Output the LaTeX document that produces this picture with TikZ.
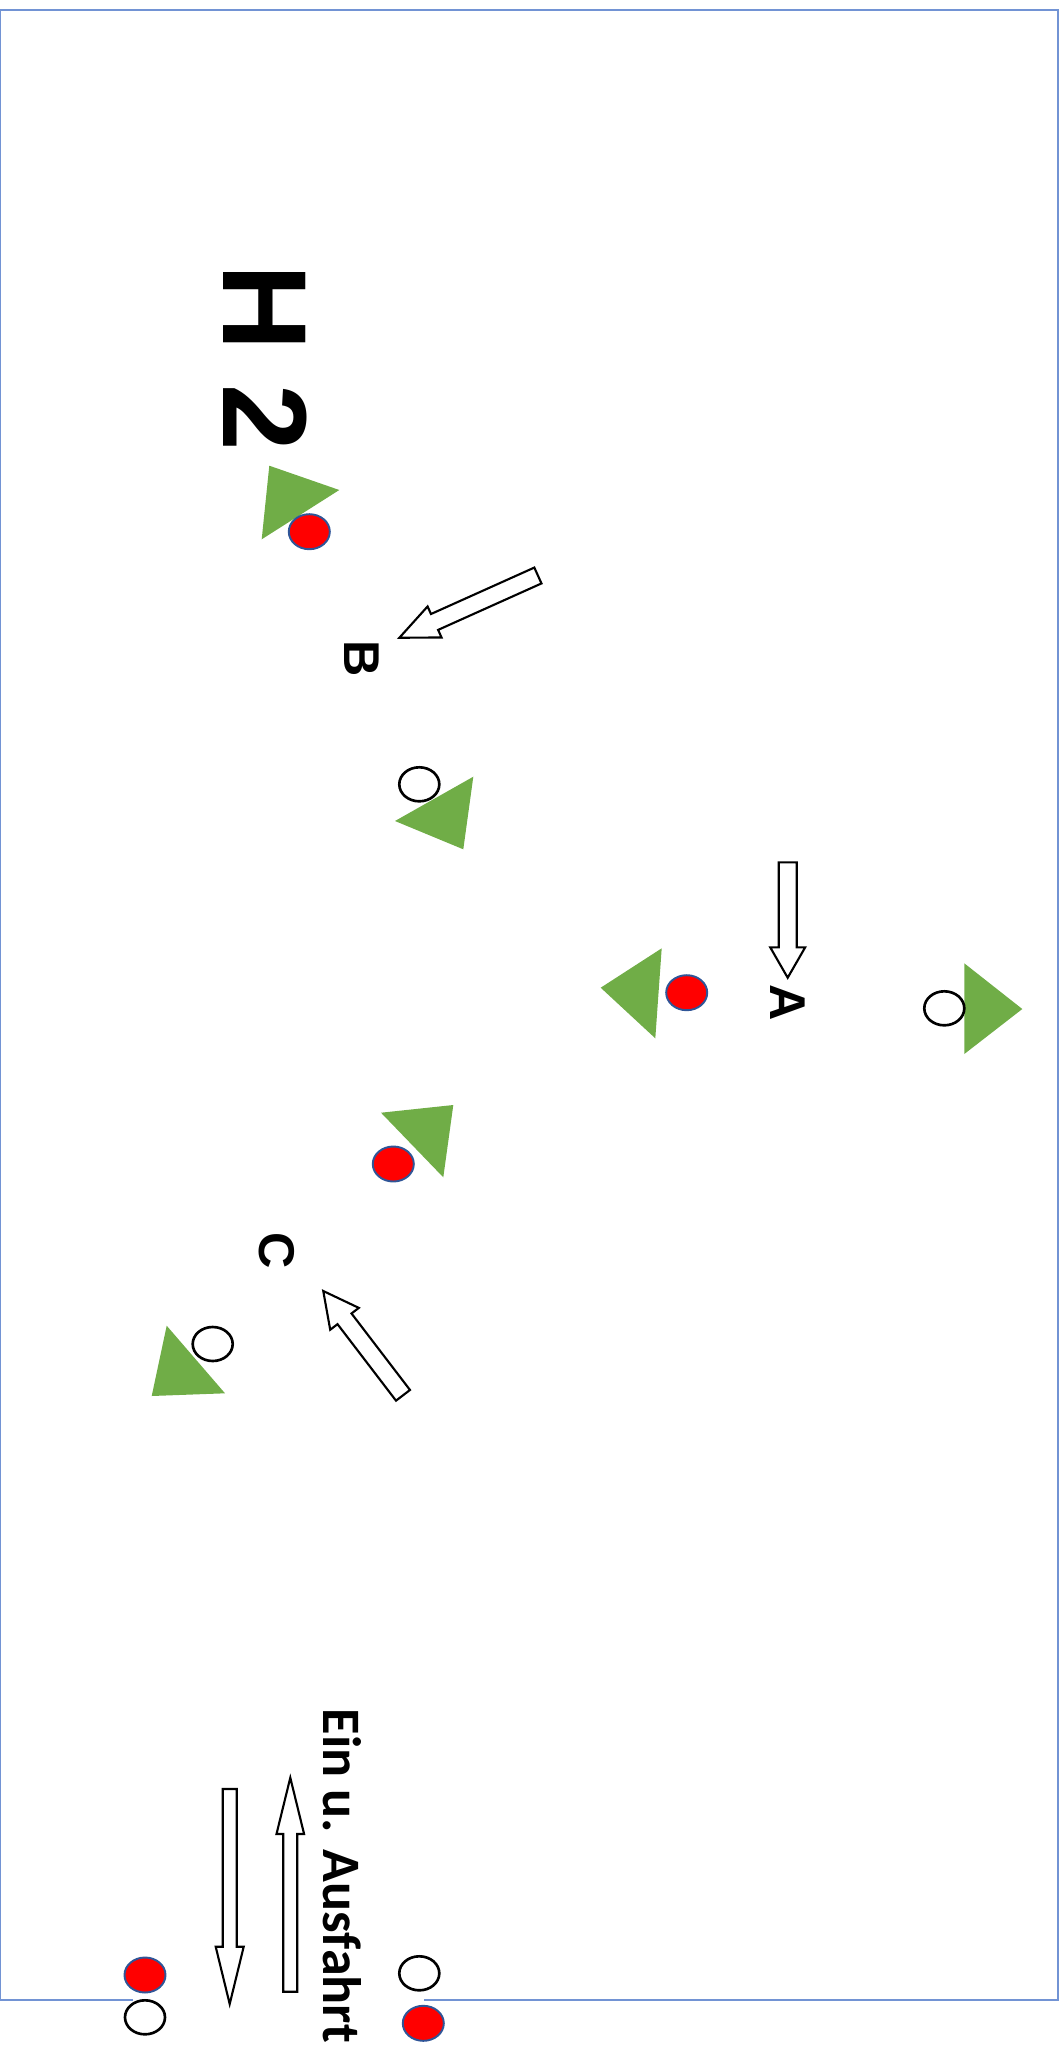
\documentclass[tikz,border=0pt]{standalone}
\usepackage{fontspec}
\newfontfamily\signfont{Liberation Sans}
\newfontfamily\notefont{Carlito}
\usetikzlibrary{shapes.geometric}
\definecolor{mygreen}{RGB}{112,173,71}
\definecolor{myred}{RGB}{255,0,0}
\definecolor{myblue}{RGB}{47,85,151}
\definecolor{myframe}{RGB}{114,147,212}
\tikzset{
  cone/.style={fill=mygreen, draw=none},
  redmark/.style={ellipse, draw=myblue, fill=myred,
    minimum width=0.41cm, minimum height=0.35cm, inner sep=0pt, line width=0.55pt},
  whitemark/.style={ellipse, draw=black, fill=white,
    minimum width=0.40cm, minimum height=0.34cm, inner sep=0pt, line width=0.75pt},
  letter/.style={font=\signfont\bfseries\fontsize{14.3}{15}\selectfont,
    rotate=-90, inner sep=0pt},
  hallname/.style={font=\signfont\bfseries\fontsize{34}{36}\selectfont,
    rotate=-90, inner sep=0pt, anchor=base west},
  note/.style={font=\notefont\bfseries\fontsize{15.4}{17}\selectfont,
    rotate=-90, inner sep=0pt, anchor=base west},
  frame/.style={draw=myframe, line width=0.45pt},
  pics/blockarrow/.style n args={4}{code={
    \draw[line width=0.6pt, fill=white, line join=miter]
      (0,-#2) -- (#1-#4,-#2) -- (#1-#4,-#3) -- (#1,0)
      -- (#1-#4,#3) -- (#1-#4,#2) -- (0,#2) -- cycle;
  }}
}
\begin{document}
\begin{tikzpicture}[x=0.01cm, y=-0.01cm]
  \useasboundingbox (0,0) rectangle (1063,2069);

  % Hall outline, open at the gate
  \draw[frame] (133,2000) -| (0,10) -| (1058,2000) -- (424,2000);

  % Labels
  \node[hallname] (hall) at (223,264) {H 2};
  \node[letter] (labA) at (788,1003) {A};
  \node[letter] (labB) at (362,659) {B};
  \node[letter] (labC) at (277,1251) {C};
  \node[note] (gate) at (323,1708) {Ein u. Ausfahrt};

  % Cones
  \fill[cone] (269.3,465.7) -- (339.3,490) -- (261.7,539.3) -- cycle;
  \fill[cone] (473.3,776.7) -- (395,821) -- (463.3,849.3) -- cycle;
  \fill[cone] (661.7,948.3) -- (600.7,987.7) -- (655.3,1038.3) -- cycle;
  \fill[cone] (964.3,963.3) -- (1022.3,1009) -- (964.3,1054) -- cycle;
  \fill[cone] (381,1112.7) -- (453.3,1105) -- (443.3,1177.3) -- cycle;
  \fill[cone] (166.7,1325.7) -- (225,1393.3) -- (151.7,1396) -- cycle;

  % Markers
  \node[redmark] (redH) at (309.3,531.7) {};
  \node[whitemark] (whiteB) at (419.3,784.3) {};
  \node[redmark] (redA) at (686.7,992.7) {};
  \node[whitemark] (whiteA) at (944.3,1008.3) {};
  \node[redmark] (redC) at (393.3,1164) {};
  \node[whitemark] (whiteC) at (212.7,1344) {};
  \node[redmark] (redGL) at (145,1975) {};
  \node[whitemark] (whiteGL) at (145,2017.3) {};
  \node[whitemark] (whiteGR) at (419.3,1973.3) {};
  \node[redmark] (redGR) at (423.3,2023.3) {};

  % Direction arrows
  \pic[rotate=-90] at (787.7,862.3) {blockarrow={115.4}{9}{17.5}{30.4}};
  \pic[rotate=204.2] at (537.9,575.5) {blockarrow={151.9}{8.7}{17}{38.6}};
  \pic[rotate=127.4] at (403,1395.3) {blockarrow={131.3}{8.8}{18}{35}};
  \pic[rotate=-90] at (229.7,1789) {blockarrow={215}{7}{14}{57.3}};
  \pic[rotate=90] at (290.3,1991.7) {blockarrow={214}{7}{13.8}{56.3}};
\end{tikzpicture}
\end{document}
